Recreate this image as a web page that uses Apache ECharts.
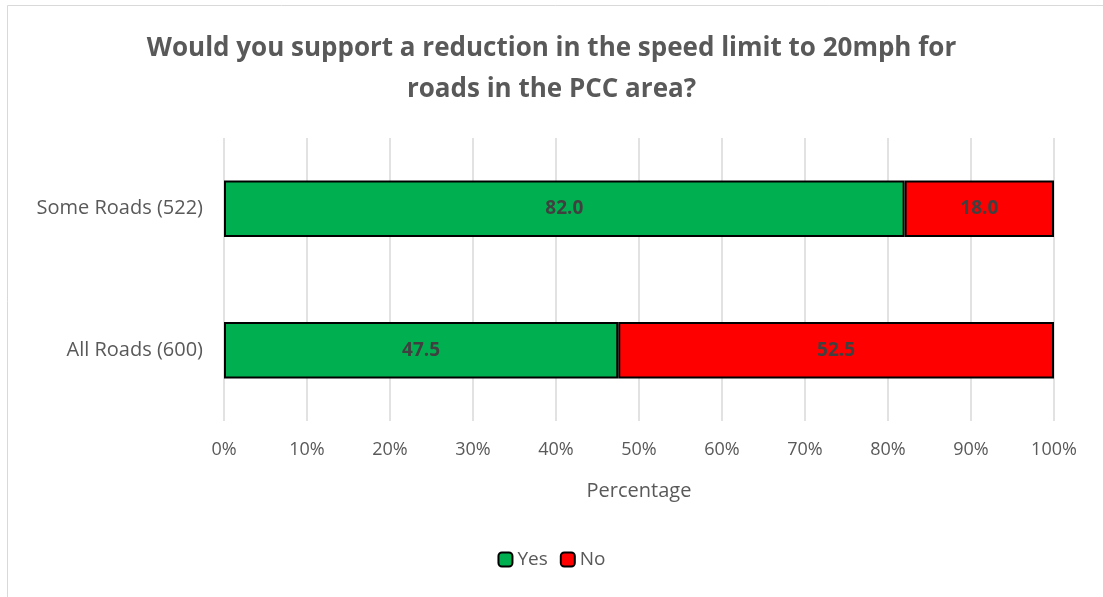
<!DOCTYPE html>
<html>
<head>
<meta charset="utf-8">
<script src="https://cdn.jsdelivr.net/npm/echarts@6/dist/echarts.min.js"></script>
<style>
  html, body { margin: 0; padding: 0; background: #fff; }
  #chart { width: 1103px; height: 597px; }
</style>
</head>
<body>
<div id="chart"></div>
<script>
// data
var categories = ['All Roads (600)', 'Some Roads (522)'];
var yesValues = [47.5, 82.0];
var noValues = [52.5, 18.0];
var tickValues = [0, 10, 20, 30, 40, 50, 60, 70, 80, 90, 100];

var font = "'Open Sans', 'Liberation Sans', sans-serif";
var myChart = echarts.init(document.getElementById('chart'));

function barLabel() {
	return {
		show: true,
		position: 'inside',
		color: '#404040',
		fontWeight: 'bold',
		fontSize: 19,
		fontFamily: font,
		formatter: function (p) { return p.value.toFixed(1); }
	};
}

myChart.setOption({
	animation: false,
	textStyle: { fontFamily: font },
	title: {
		text: 'Would you support a reduction in the speed limit to 20mph for\nroads in the PCC area?',
		left: 'center',
		top: 23,
		textStyle: {
			color: '#595959',
			fontSize: 26,
			fontWeight: 'bold',
			fontFamily: font,
			lineHeight: 41
		}
	},
	graphic: [{
		type: 'rect',
		shape: { x: 7.5, y: 5.5, width: 1300, height: 1000 },
		style: { fill: 'none', stroke: '#d9d9d9', lineWidth: 1 },
		silent: true
	}],
	legend: {
		bottom: 23,
		left: 'center',
		itemWidth: 14,
		itemHeight: 14,
		itemGap: 12,
		textStyle: { color: '#595959', fontSize: 19, fontFamily: font, padding: [0, 0, 0, 0] },
		data: ['Yes', 'No']
	},
	grid: { left: 224, right: 49, top: 138, bottom: 176 },
	xAxis: {
		type: 'value',
		min: 0,
		max: 100,
		interval: 10,
		name: 'Percentage',
		nameLocation: 'middle',
		nameGap: 60,
		nameTextStyle: { color: '#595959', fontSize: 20, fontFamily: font },
		axisLine: { show: false },
		axisTick: { show: false },
		axisLabel: {
			color: '#595959',
			fontSize: 18,
			margin: 20,
			fontFamily: font,
			formatter: function (v) { return tickValues.indexOf(v) >= 0 ? v + '%' : ''; }
		},
		splitLine: { lineStyle: { color: '#d9d9d9', width: 1.5 } }
	},
	yAxis: {
		type: 'category',
		data: categories,
		axisLine: { show: false },
		axisTick: { show: false },
		axisLabel: { color: '#595959', fontSize: 20, margin: 21, fontFamily: font }
	},
	series: [{
		name: 'Yes',
		type: 'bar',
		stack: 'total',
		data: yesValues,
		barCategoryGap: '60%',
		itemStyle: { color: '#00b050', borderColor: '#000', borderWidth: 2 },
		label: barLabel()
	}, {
		name: 'No',
		type: 'bar',
		stack: 'total',
		data: noValues,
		barCategoryGap: '60%',
		itemStyle: { color: '#ff0000', borderColor: '#000', borderWidth: 2 },
		label: barLabel()
	}]
});
</script>
</body>
</html>
